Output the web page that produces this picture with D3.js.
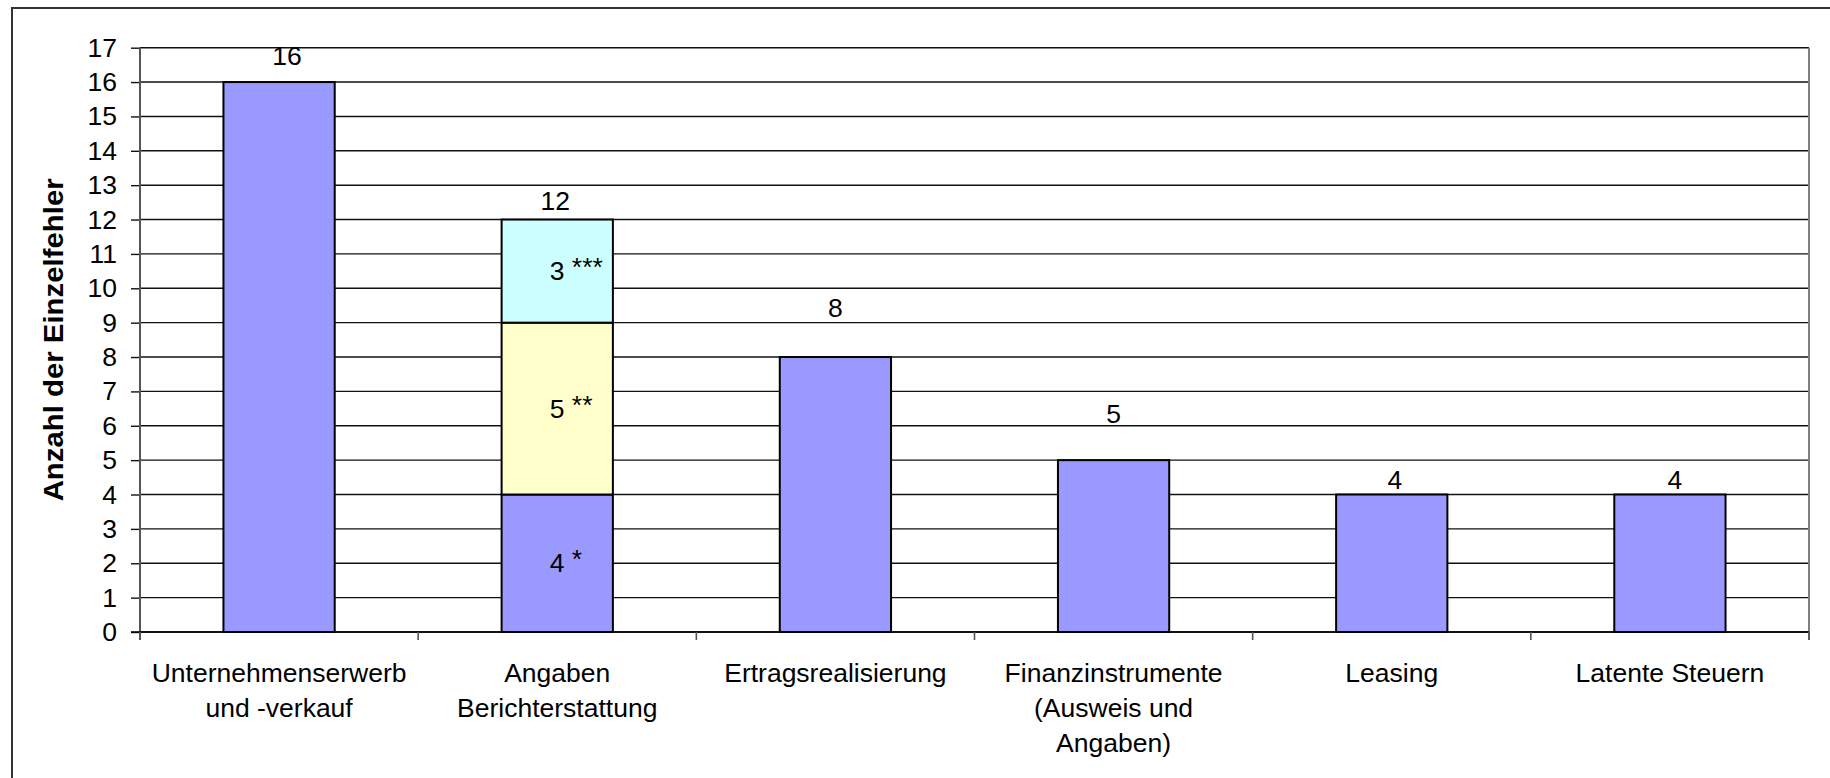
<!DOCTYPE html>
<html>
<head>
<meta charset="utf-8">
<script src="https://cdn.jsdelivr.net/npm/d3@7"></script>
<style>
  html, body { margin: 0; padding: 0; background: #fff; }
  svg { display: block; font-family: "Liberation Sans", Arial, sans-serif; }
</style>
</head>
<body>
<svg id="chart" width="1830" height="778"></svg>
<script>
// Kategorien (mehrzeilige Achsenbeschriftung)
const categories = [
  ["Unternehmenserwerb", "und -verkauf"],
  ["Angaben", "Berichterstattung"],
  ["Ertragsrealisierung"],
  ["Finanzinstrumente", "(Ausweis und", "Angaben)"],
  ["Leasing"],
  ["Latente Steuern"]
];
// Gestapelte Reihen: Basis, zweite und dritte Teilmenge
const seriesBase   = [16, 4, 8, 5, 4, 4];
const seriesSecond = [0, 5, 0, 0, 0, 0];
const seriesThird  = [0, 3, 0, 0, 0, 0];
// Fußnotenmarkierungen der Teilmengen bei "Angaben Berichterstattung"
const segmentMarks = ["*", "**", "***"];
const yTicks = d3.range(0, 18);
const yTitle = "Anzahl der Einzelfehler";

// Layout
const plot = { left: 140, right: 1809, top: 47.7, bottom: 632 };
const fillColors = ["#9999FF", "#FFFFCC", "#CCFFFF"];
const totalLabelLift = [17, 9.5, 40.5, 37, 5.5, 5.5];
const totalLabelShift = [8, -2, 0, 0, 3, 5];
const fontSize = 26.5;

const svg = d3.select("#chart");

// Diagrammrahmen
svg.append("rect")
  .attr("x", 12).attr("y", 8)
  .attr("width", 1900).attr("height", 900)
  .attr("fill", "#fff").attr("stroke", "#333").attr("stroke-width", 2);

const x = d3.scaleBand()
  .domain(d3.range(categories.length))
  .range([plot.left, plot.right])
  .paddingInner(0.6)
  .paddingOuter(0.3);

const y = d3.scaleLinear()
  .domain([0, 17])
  .range([plot.bottom, plot.top]);

// Gitternetzlinien
svg.append("g")
  .selectAll("line")
  .data(yTicks)
  .join("line")
  .attr("x1", plot.left).attr("x2", plot.right)
  .attr("y1", d => y(d)).attr("y2", d => y(d))
  .attr("stroke", "#111").attr("stroke-width", 1.4);

// rechte Begrenzung der Zeichenfläche
svg.append("line")
  .attr("x1", plot.right).attr("x2", plot.right)
  .attr("y1", plot.top).attr("y2", plot.bottom + 8)
  .attr("stroke", "#808080").attr("stroke-width", 2);

// Y-Achse
const yAxis = svg.append("g")
  .attr("transform", `translate(${plot.left},0)`)
  .call(d3.axisLeft(y).tickValues(yTicks).tickSize(9).tickSizeOuter(0).tickPadding(14).tickFormat(d3.format("d")));
yAxis.select(".domain").remove();
yAxis.selectAll(".tick line").attr("stroke", "#111").attr("stroke-width", 1.4);
yAxis.selectAll(".tick text")
  .attr("font-size", fontSize)
  .attr("font-family", "Liberation Sans, Arial, sans-serif")
  .attr("fill", "#000");
svg.append("line")
  .attr("x1", plot.left).attr("x2", plot.left)
  .attr("y1", plot.top).attr("y2", plot.bottom + 8)
  .attr("stroke", "#555").attr("stroke-width", 2);

// Achsentitel
svg.append("text")
  .attr("transform", `translate(63,${(plot.top + plot.bottom) / 2}) rotate(-90)`)
  .attr("text-anchor", "middle")
  .attr("font-size", 27)
  .attr("font-weight", "bold")
  .attr("textLength", 323)
  .attr("lengthAdjust", "spacingAndGlyphs")
  .text(yTitle);

// Säulen (gestapelt)
const stackData = categories.map((c, i) => ({ i, a: seriesBase[i], b: seriesSecond[i], c: seriesThird[i] }));
const stacked = d3.stack().keys(["a", "b", "c"])(stackData);

const layers = svg.append("g")
  .selectAll("g")
  .data(stacked)
  .join("g")
  .attr("fill", (d, k) => fillColors[k]);

layers.selectAll("rect")
  .data(d => d.filter(s => s[1] - s[0] > 0))
  .join("rect")
  .attr("x", s => x(s.data.i))
  .attr("width", x.bandwidth())
  .attr("y", s => y(s[1]))
  .attr("height", s => y(s[0]) - y(s[1]))
  .attr("stroke", "#000")
  .attr("stroke-width", 2);

// X-Achse mit Teilstrichen zwischen den Kategorien
svg.append("line")
  .attr("x1", plot.left - 9).attr("x2", plot.right)
  .attr("y1", plot.bottom).attr("y2", plot.bottom)
  .attr("stroke", "#000").attr("stroke-width", 1.6);
svg.append("g")
  .selectAll("line")
  .data(d3.range(categories.length + 1))
  .join("line")
  .attr("x1", i => x.range()[0] + i * x.step())
  .attr("x2", i => x.range()[0] + i * x.step())
  .attr("y1", plot.bottom).attr("y2", plot.bottom + 8)
  .attr("stroke", "#555").attr("stroke-width", 1.6);

// Kategoriebeschriftungen
const catLabels = svg.append("g")
  .selectAll("text")
  .data(categories)
  .join("text")
  .attr("text-anchor", "middle")
  .attr("font-size", fontSize)
  .attr("fill", "#000");
catLabels.selectAll("tspan")
  .data((lines, i) => lines.map(l => ({ l, i })))
  .join("tspan")
  .attr("x", d => x(d.i) + x.bandwidth() / 2)
  .attr("y", (d, j) => 682 + j * 35)
  .text(d => d.l);

// Summenbeschriftungen über den Säulen
const totals = categories.map((c, i) => seriesBase[i] + seriesSecond[i] + seriesThird[i]);
svg.append("g")
  .selectAll("text")
  .data(totals)
  .join("text")
  .attr("x", (d, i) => x(i) + x.bandwidth() / 2 + totalLabelShift[i])
  .attr("y", (d, i) => y(d) - totalLabelLift[i])
  .attr("text-anchor", "middle")
  .attr("font-size", fontSize)
  .text(d => d);

// Teilmengen im gestapelten Balken (Wert plus hochgestellte Markierung)
const splitIndex = 1;
const segments = stacked.map((layer, k) => ({ k, s: layer[splitIndex] }));
const segLabels = svg.append("g")
  .selectAll("text")
  .data(segments)
  .join("text")
  .attr("x", d => x(splitIndex) + x.bandwidth() / 2 - 7.5)
  .attr("y", d => y((d.s[0] + d.s[1]) / 2) + 9)
  .attr("text-anchor", "start")
  .attr("font-size", fontSize);
segLabels.append("tspan").text(d => `${d.s[1] - d.s[0]} `);
segLabels.append("tspan").attr("dy", -4).text(d => segmentMarks[d.k]);
</script>
</body>
</html>
